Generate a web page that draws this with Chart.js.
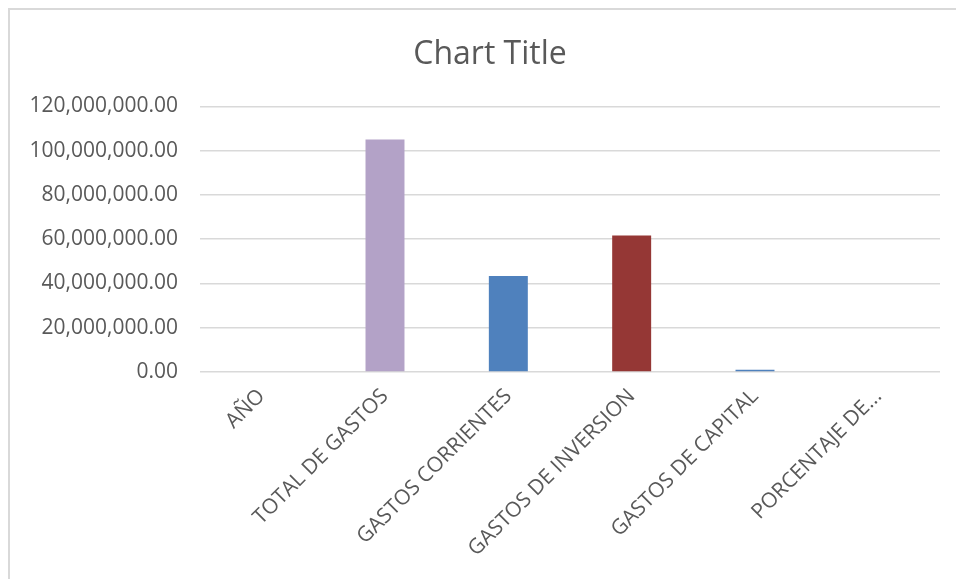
<!DOCTYPE html>
<html>
<head>
<meta charset="utf-8">
<script src="https://cdn.jsdelivr.net/npm/chart.js@4/dist/chart.umd.min.js"></script>
<style>
  html, body { margin: 0; padding: 0; background: #fff; overflow: hidden; }
  .wrap { position: absolute; left: 0; top: 0; width: 956px; height: 579px; }
  .frame { position: absolute; left: 8px; top: 8px; width: 1000px; height: 1000px;
           border: 2px solid #D9D9D9; pointer-events: none; }
</style>
</head>
<body>
<div class="wrap"><canvas id="chart"></canvas></div>
<div class="frame"></div>
<script>
const categories = ["AÑO", "TOTAL DE GASTOS", "GASTOS CORRIENTES", "GASTOS DE INVERSION", "GASTOS DE CAPITAL", "PORCENTAJE DE..."];
const gastos = [0, 105000000, 43400000, 61700000, 1000000, 0];
const yTicks = [0, 20000000, 40000000, 60000000, 80000000, 100000000, 120000000];
const barColors = ["#4F81BD", "#B3A2C7", "#4F81BD", "#953735", "#4F81BD", "#9BBB59"];

const textColor = "#595959";
const fontFamily = "'Open Sans', sans-serif";

// the title sits a bit right of the canvas centre in the original
const shiftTitle = {
    id: "shiftTitle",
    afterLayout: function (chart) {
        if (chart.titleBlock) {
            chart.titleBlock.left += 20;
            chart.titleBlock.right += 20;
        }
    }
};

new Chart(document.getElementById("chart"), {
    type: "bar",
    data: {
        labels: categories,
        datasets: [{
            label: "Gastos",
            data: gastos,
            backgroundColor: barColors,
            borderWidth: 0,
            categoryPercentage: 1,
            barPercentage: 0.316
        }]
    },
    plugins: [shiftTitle],
    options: {
        responsive: true,
        maintainAspectRatio: false,
        animation: false,
        layout: { padding: { left: 0, right: 16, top: 0, bottom: 0 } },
        plugins: {
            legend: { display: false },
            tooltip: { enabled: false },
            title: {
                display: true,
                text: "Chart Title",
                color: textColor,
                font: { family: fontFamily, size: 32, weight: "normal" },
                padding: { top: 36, bottom: 32 }
            }
        },
        scales: {
            x: {
                grid: { display: false },
                border: { display: false },
                ticks: {
                    color: textColor,
                    font: { family: fontFamily, size: 21 },
                    minRotation: 45,
                    maxRotation: 45,
                    autoSkip: false,
                    padding: 4
                },
                afterFit: function (scale) { scale.height = 207; }
            },
            y: {
                min: 0,
                max: 120000000,
                afterBuildTicks: function (scale) {
                    scale.ticks = yTicks.map(function (v) { return { value: v }; });
                },
                grid: { color: "#D9D9D9", lineWidth: 1.5, drawTicks: false },
                border: { display: false },
                ticks: {
                    color: textColor,
                    font: { family: fontFamily, size: 21 },
                    padding: 22,
                    callback: function (v) {
                        return Number(v).toLocaleString("en-US", { minimumFractionDigits: 2, maximumFractionDigits: 2 });
                    }
                },
                afterFit: function (scale) { scale.width = 200; }
            }
        }
    }
});
</script>
</body>
</html>
